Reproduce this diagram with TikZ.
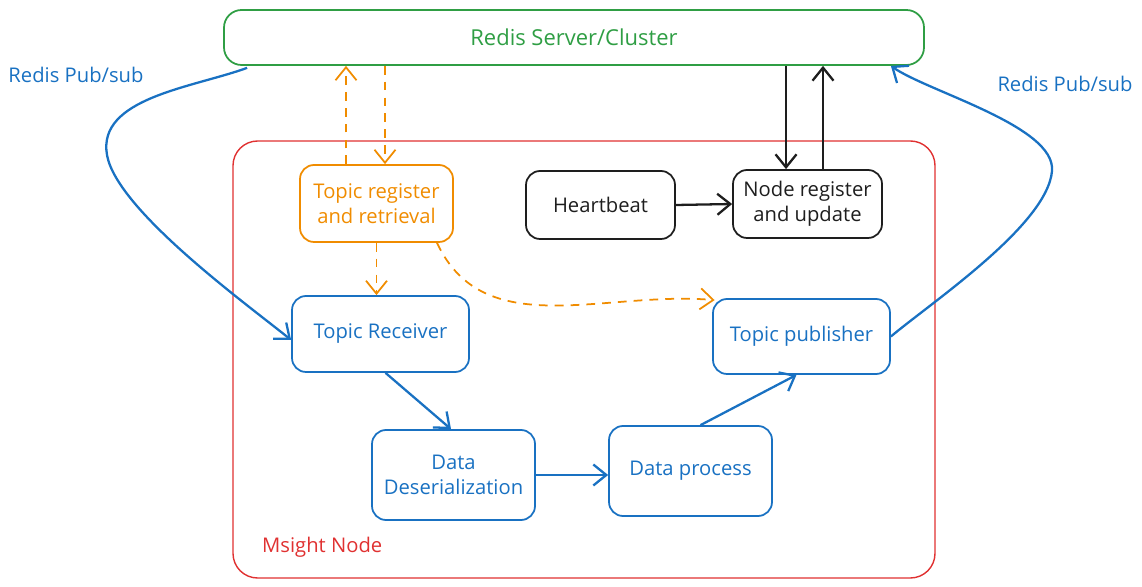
\documentclass[tikz,border=0pt]{standalone}
\usepackage{fontspec}
\setmainfont{Open Sans}
\usetikzlibrary{arrows.meta, positioning}
\definecolor{rgreen}{HTML}{2F9E44}
\definecolor{rred}{HTML}{E03131}
\definecolor{rorange}{HTML}{F08C00}
\definecolor{rblue}{HTML}{1971C2}
\definecolor{rblack}{HTML}{1E1E1E}

\begin{document}
\begin{tikzpicture}[
  font=\fontsize{11.5}{14}\selectfont,
  box/.style={draw, line width=1pt, rounded corners=8pt, align=center, minimum width=3.26cm, minimum height=1.8cm},
  tip/.style={-{Straight Barb[length=2.6mm,width=4.2mm]}},
  flow/.style={tip, line width=1.3pt, rblue},
  topicflow/.style={tip, line width=1pt, rorange, dash pattern=on 5pt off 4pt}
]
\useasboundingbox (0,0) rectangle (22.84,11.72);
\draw[rred, line width=0.8pt, rounded corners=14pt] (4.66,0.16) rectangle (18.70,8.90);
\node[rred, anchor=west] (msight) at (5.12,0.78) {Msight Node};

\node[box, rgreen, minimum width=14cm, minimum height=1.1cm, rounded corners=10pt, font=\fontsize{12.5}{15}\selectfont] (redis) at (11.48,10.97) {Redis Server/Cluster};

\node[box, rorange, minimum width=3.06cm, minimum height=1.54cm] (topicreg) at (7.53,7.65) {Topic register\\and retrieval};
\node[box, rblack, minimum width=2.98cm, minimum height=1.36cm] (heartbeat) at (12.01,7.62) {Heartbeat};
\node[box, rblack, minimum width=2.98cm, minimum height=1.36cm] (nodereg) at (16.15,7.64) {Node register\\and update};

\node[box, rblue, minimum width=3.54cm, minimum height=1.52cm] (receiver) at (7.61,5.04) {Topic Receiver};
\node[box, rblue, minimum width=3.54cm, minimum height=1.5cm] (publisher) at (16.03,4.99) {Topic publisher};
\node[box, rblue] (deser) at (9.07,2.22) {Data\\Deserialization};
\node[box, rblue] (process) at (13.81,2.30) {Data process};

\node[rblue] (pubsubl) at (1.52,10.22) {Redis Pub/sub};
\node[rblue] (pubsubr) at (21.30,10.04) {Redis Pub/sub};

\draw[topicflow] ([xshift=-0.61cm]topicreg.north) -- ([xshift=-0.61cm]topicreg.north |- redis.south);
\draw[topicflow] ([xshift=0.17cm]topicreg.north |- redis.south) -- ([xshift=0.17cm]topicreg.north);
\draw[topicflow] (topicreg.south) -- (topicreg.south |- receiver.north);
\draw[topicflow] ([xshift=1.21cm]topicreg.south) to[out=-65,in=175] ([xshift=0.05cm,yshift=-0.04cm]publisher.north west);

\draw[tip, rblack, line width=1.3pt] ([xshift=-0.43cm]nodereg.north |- redis.south) -- ([xshift=-0.43cm]nodereg.north);
\draw[tip, rblack, line width=1.3pt] ([xshift=0.31cm]nodereg.north) -- ([xshift=0.31cm]nodereg.north |- redis.south);
\draw[tip, rblack, line width=1.3pt] (heartbeat.east) -- (nodereg.west);

\draw[flow] ([xshift=0.48cm,yshift=-0.04cm]redis.south west) to[out=200,in=100,looseness=0.9] (2.14,8.62) to[out=-80,in=141,looseness=0.55] ([yshift=-0.12cm]receiver.west);
\draw[flow] (publisher.east) to[out=40,in=-95,looseness=0.6] (21.04,8.30) to[out=85,in=-35,looseness=0.6] ([xshift=-0.68cm]redis.south east);
\draw[flow] ([xshift=0.1cm]receiver.south) -- ([xshift=-0.05cm]deser.north);
\draw[flow] (deser.east) -- (deser.east -| process.west);
\draw[flow] ([xshift=0.2cm]process.north) -- ([xshift=-0.1cm]publisher.south);
\end{tikzpicture}
\end{document}
